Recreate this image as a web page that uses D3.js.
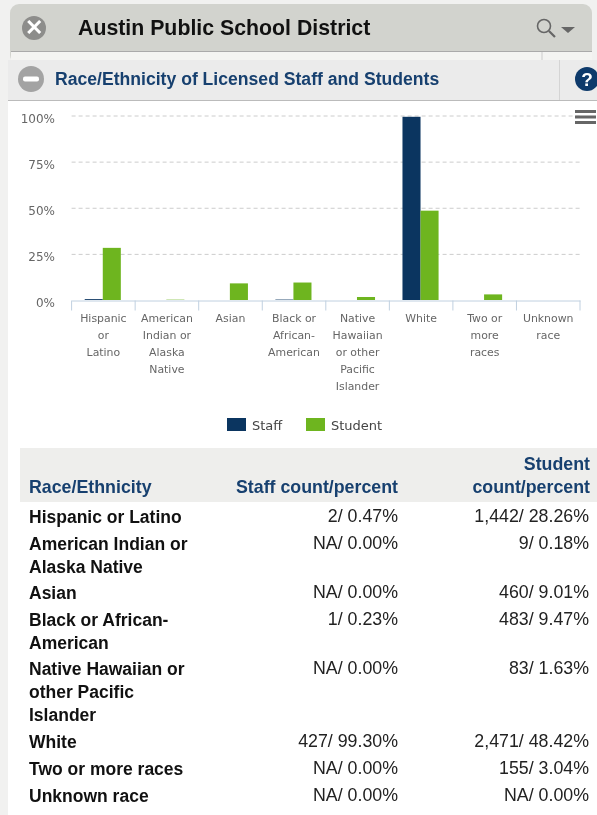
<!DOCTYPE html>
<html><head><meta charset="utf-8">
<script src="https://cdn.jsdelivr.net/npm/d3@7"></script>
<style>html,body{margin:0;padding:0;background:#fff;overflow:hidden}svg{display:block;filter:blur(.4px)}</style>
</head><body><svg id="c" width="597" height="815"></svg>
<script>
const categories=["Hispanic or Latino","American Indian or Alaska Native","Asian","Black or African-American","Native Hawaiian or other Pacific Islander","White","Two or more races","Unknown race"];
const axisLabels=[["Hispanic","or","Latino"],["American","Indian or","Alaska","Native"],["Asian"],["Black or","African-","American"],["Native","Hawaiian","or other","Pacific","Islander"],["White"],["Two or","more","races"],["Unknown","race"]];
const staff=[0.47,0,0,0.23,0,99.30,0,0];
const student=[28.26,0.18,9.01,9.47,1.63,48.42,3.04,0];
const yTicks=[0,25,50,75,100];
const seriesNames=["Staff","Student"];
const seriesColors=["#0b3560","#6eb51f"];
const rowLabels=[["Hispanic or Latino"],["American Indian or","Alaska Native"],["Asian"],["Black or African-","American"],["Native Hawaiian or","other Pacific","Islander"],["White"],["Two or more races"],["Unknown race"]];
const staffText=["2/ 0.47%","NA/ 0.00%","NA/ 0.00%","1/ 0.23%","NA/ 0.00%","427/ 99.30%","NA/ 0.00%","NA/ 0.00%"];
const studentText=["1,442/ 28.26%","9/ 0.18%","460/ 9.01%","483/ 9.47%","83/ 1.63%","2,471/ 48.42%","155/ 3.04%","NA/ 0.00%"];
const rowY=[517,544,593,620,669,742,769,796];

const svg=d3.select("#c");
const SANS="'Liberation Sans',Arial,sans-serif", CH="'DejaVu Sans',sans-serif";
const navy="#17406f";
// page chrome
svg.append("rect").attr("width",597).attr("height",815).attr("fill","#f1f1f0");
svg.append("rect").attr("x",8).attr("y",60).attr("width",589).attr("height",755).attr("fill","#fff");
svg.append("rect").attr("x",10).attr("y",4).attr("width",582).attr("height",60).attr("rx",9).attr("fill","#d2d3ce");
svg.append("rect").attr("x",11).attr("y",52).attr("width",581).attr("height",8).attr("fill","#f4f4f2");
svg.append("line").attr("x1",11).attr("x2",592).attr("y1",51.5).attr("y2",51.5).attr("stroke","#aaa");
svg.append("line").attr("x1",542).attr("x2",542).attr("y1",52).attr("y2",60).attr("stroke","#ccc");
svg.append("circle").attr("cx",34).attr("cy",28).attr("r",12).attr("fill","#8d8d8b");
svg.append("text").attr("x",34).attr("y",35).attr("text-anchor","middle").attr("font-family",SANS).attr("font-weight",700).attr("font-size",22).attr("fill","#fff").text("✕");
svg.append("text").attr("x",78).attr("y",35).attr("font-family",SANS).attr("font-weight",700).attr("font-size",21.3).attr("fill","#111").text("Austin Public School District");
const mag=svg.append("g").attr("fill","none").attr("stroke","#666");
mag.append("circle").attr("cx",544).attr("cy",26).attr("r",6.5).attr("stroke-width",1.6);
mag.append("line").attr("x1",549).attr("y1",31).attr("x2",555).attr("y2",37).attr("stroke-width",2.2);
svg.append("path").attr("d",d3.line()([[561,27],[575,27],[568,33]])).attr("fill","#666");
// section header
svg.append("rect").attr("x",8).attr("y",60).attr("width",589).attr("height",40).attr("fill","#ebebeb");
svg.append("line").attr("x1",8).attr("x2",597).attr("y1",100.5).attr("y2",100.5).attr("stroke","#bbb");
svg.append("line").attr("x1",559.5).attr("x2",559.5).attr("y1",60).attr("y2",100).attr("stroke","#d4d4d4");
svg.append("circle").attr("cx",31).attr("cy",79).attr("r",13).attr("fill","#a3a3a3");
svg.append("rect").attr("x",23).attr("y",76.5).attr("width",16).attr("height",5).attr("rx",2).attr("fill","#fff");
svg.append("text").attr("x",55).attr("y",84.5).attr("font-family",SANS).attr("font-weight",700).attr("font-size",17.6).attr("fill",navy).text("Race/Ethnicity of Licensed Staff and Students");
svg.append("circle").attr("cx",587).attr("cy",79).attr("r",12).attr("fill","#0e3a6b");
svg.append("text").attr("x",587).attr("y",86).attr("text-anchor","middle").attr("font-family",SANS).attr("font-weight",700).attr("font-size",19).attr("fill","#fff").text("?");

// chart
const x=d3.scaleBand().domain(categories).range([71.6,580]);
const y=d3.scaleLinear().domain([0,100]).range([300,115.5]);
const xs=d3.scaleBand().domain(seriesNames).range([-0.6,x.bandwidth()-0.6]).paddingInner(0).paddingOuter(0.76);
const gy=svg.append("g");
gy.selectAll("line").data(yTicks.filter(d=>d>0)).join("line").attr("x1",71.6).attr("x2",580)
 .attr("y1",d=>y(d)+.5).attr("y2",d=>y(d)+.5).attr("stroke","#cccccc").attr("stroke-dasharray","4,3");
gy.selectAll("text").data(yTicks).join("text").attr("x",55).attr("y",d=>y(d)+7).attr("text-anchor","end")
 .attr("font-family",CH).attr("font-size",12).attr("fill","#666").text(d=>d+"%");
seriesNames.forEach((s,k)=>{
  const vals=k?student:staff;
  svg.append("g").attr("fill",seriesColors[k]).selectAll("rect").data(categories).join("rect")
   .attr("x",c=>x(c)+xs(s)).attr("width",xs.bandwidth()).attr("y",(c,i)=>y(vals[i])).attr("height",(c,i)=>300-y(vals[i]));
});
const ax=svg.append("g").attr("transform","translate(0,300.5)");
ax.call(d3.axisBottom(x).tickSize(0).tickFormat(""));
ax.select(".domain").attr("stroke","#c0d0e0");
ax.selectAll(".sep").data(categories.concat(["end"])).join("line").attr("class","sep")
  .attr("x1",(c,i)=>i<8?x(c):580).attr("x2",(c,i)=>i<8?x(c):580).attr("y1",0).attr("y2",10).attr("stroke","#c0d0e0");
axisLabels.forEach((ls,i)=>{
  svg.append("text").attr("text-anchor","middle").attr("font-family",CH).attr("font-size",10.9).attr("fill","#666")
   .selectAll("tspan").data(ls).join("tspan").attr("x",x(categories[i])+x.bandwidth()/2).attr("y",(d,j)=>322+j*17).text(d=>d);
});
// menu icon
svg.append("g").selectAll("rect").data([0,1,2]).join("rect").attr("x",575).attr("width",21).attr("y",d=>110+d*5.5).attr("height",3).attr("fill","#666");
// legend
const legX=[227,306], legTX=[252,331];
seriesNames.forEach((s,k)=>{
  svg.append("rect").attr("x",legX[k]).attr("y",418).attr("width",19).attr("height",13).attr("fill",seriesColors[k]);
  svg.append("text").attr("x",legTX[k]).attr("y",430).attr("font-family",CH).attr("font-size",13).attr("fill","#444").text(s);
});
// table
svg.append("rect").attr("x",20).attr("y",448).attr("width",577).attr("height",54).attr("fill","#eeeeec");
const hd=(t,xp,yp,a)=>svg.append("text").attr("x",xp).attr("y",yp).attr("text-anchor",a).attr("font-family",SANS).attr("font-weight",700).attr("font-size",17.8).attr("fill",navy).text(t);
hd("Race/Ethnicity",29,492.5,"start");hd("Staff count/percent",398,492.5,"end");hd("Student",590,469.5,"end");hd("count/percent",590,492.5,"end");
const cell=(t,xp,yp,a,w)=>svg.append("text").attr("x",xp).attr("y",yp).attr("text-anchor",a).attr("font-family",SANS).attr("font-weight",w).attr("font-size",w==700?17.5:17.8).attr("fill",w==700?"#111":"#222").text(t);
categories.forEach((c,i)=>{
  rowLabels[i].forEach((l,j)=>cell(l,29,rowY[i]+5.5+j*23,"start",700));
  cell(staffText[i],398,rowY[i]+5,"end",400);
  cell(studentText[i],589,rowY[i]+5,"end",400);
});
</script></body></html>
